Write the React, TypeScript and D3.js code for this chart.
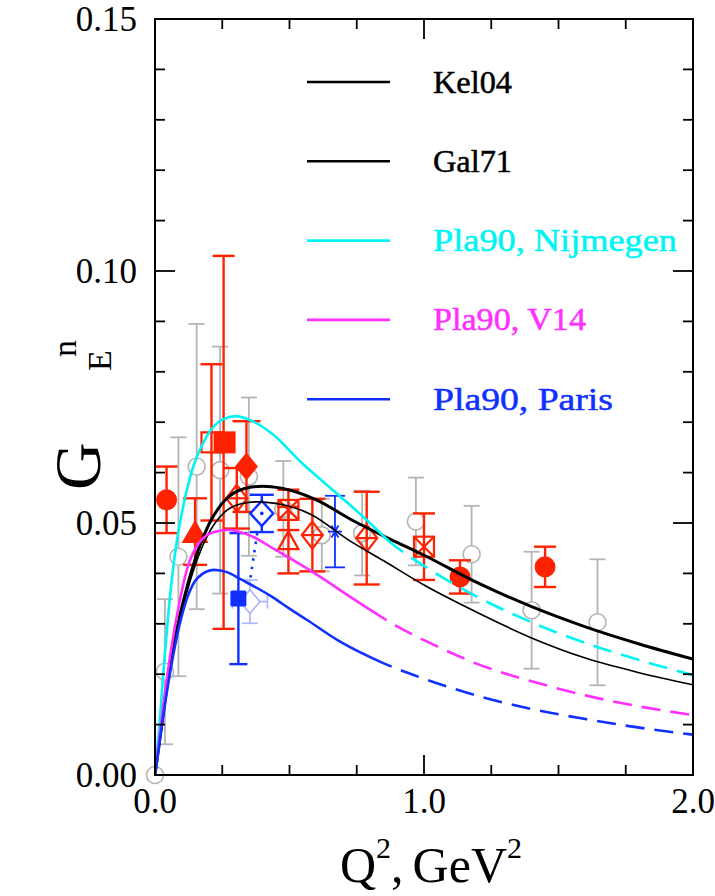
import React from "react";
import * as d3 from "d3";

type P = [number, number];

// ---- theory curves [Q2, GEn] ----
const KEL04: P[] = [[0,0],[0.03,0.012],[0.06,0.0235],[0.09,0.031],[0.12,0.0375],[0.16,0.0445],[0.2,0.0497],[0.26,0.0545],[0.33,0.0568],[0.4,0.0573],[0.47,0.0569],[0.6,0.0546],[0.725,0.0508],[0.874,0.0468],[1.0,0.0436],[1.2,0.0381],[1.4,0.0334],[1.6,0.0294],[1.8,0.026],[2.0,0.023]];
const GAL71: P[] = [[0,0],[0.03,0.0117],[0.06,0.0228],[0.09,0.0302],[0.12,0.0365],[0.16,0.0432],[0.2,0.048],[0.26,0.0522],[0.32,0.0538],[0.38,0.0542],[0.45,0.0539],[0.58,0.0517],[0.72,0.0466],[0.85,0.0425],[1.0,0.0377],[1.2,0.0322],[1.4,0.0272],[1.6,0.0232],[1.8,0.0203],[2.0,0.0179]];
const NIJMEGEN: P[] = [[0,0],[0.015,0.009],[0.03,0.0195],[0.055,0.035],[0.08,0.046],[0.1,0.052],[0.13,0.059],[0.19,0.067],[0.25,0.0705],[0.3,0.0712],[0.35,0.0705],[0.44,0.0675],[0.54,0.0622],[0.675,0.0559],[0.787,0.0506],[0.874,0.0462],[1.0,0.0415],[1.2,0.0353],[1.4,0.0303],[1.6,0.0262],[1.8,0.0228],[2.0,0.0198]];
const V14: P[] = [[0,0],[0.03,0.0135],[0.06,0.025],[0.09,0.034],[0.12,0.041],[0.17,0.0465],[0.22,0.0482],[0.27,0.0486],[0.35,0.0476],[0.45,0.0446],[0.6,0.0398],[0.75,0.0345],[0.9,0.0295],[1.05,0.0255],[1.2,0.022],[1.4,0.0186],[1.6,0.0158],[1.8,0.0136],[2.0,0.0119]];
const PARIS: P[] = [[0,0],[0.03,0.0115],[0.06,0.0215],[0.09,0.0295],[0.12,0.0352],[0.16,0.0392],[0.22,0.0407],[0.27,0.0402],[0.32,0.0388],[0.44,0.0352],[0.5,0.033],[0.564,0.0308],[0.69,0.0264],[0.84,0.0224],[1.0,0.0191],[1.2,0.0157],[1.4,0.0131],[1.6,0.0111],[1.8,0.0094],[2.0,0.008]];

const CURVE_NAMES = ["Kel04", "Gal71", "Pla90, Nijmegen", "Pla90, V14", "Pla90, Paris"];
const CURVE_DATA = [KEL04, GAL71, NIJMEGEN, V14, PARIS];
const CURVE_DASH_FROM = [null, null, 0.88, 0.84, 0.84];

// ---- data points [Q2, GEn, error] ----
const GRAY_CIRCLES: number[][] = [[0,0,0],[0.037,0.0205,0.0144],[0.087,0.0433,0.0237],[0.155,0.0612,0.0283],[0.242,0.0605,0.0245],[0.349,0.0592,0.0157],[0.477,0.0528,0.0095],[0.62,0.0476,0.0072],[0.77,0.048,0.0084],[0.97,0.0503,0.0087],[1.177,0.0438,0.0096],[1.40,0.0327,0.0116],[1.645,0.0303,0.0125]];
const RED_FILLED_CIRCLES: number[][] = [[0.043,0.0546,0.0066],[1.134,0.0393,0.0033],[1.45,0.0413,0.004]];
const RED_FILLED_TRIANGLE: number[][] = [[0.149,0.0483,0.0066]];
const RED_OPEN_SQUARE: number[][] = [[0.21,0.066,0.0155]];
const RED_FILLED_SQUARE: number[][] = [[0.255,0.066,0.037]];
const RED_FILLED_DIAMOND: number[][] = [[0.34,0.0612,0.009]];
const RED_DIAMOND_PLUS: number[][] = [[0.304,0.0549,0.006],[0.585,0.0476,0.0072],[0.787,0.047,0.0092]];
const RED_SQUARE_X: number[][] = [[0.496,0.0526,0.004],[1.0,0.0453,0.0066]];
const RED_OPEN_TRIANGLE: number[][] = [[0.496,0.0466,0.0066]];
const BLUE_DIAMOND_DOT: number[][] = [[0.397,0.0519,0.0037]];
const BLUE_ASTERISK: number[][] = [[0.669,0.0483,0.0071]];
const BLUE_FILLED_SQUARE: number[][] = [[0.31,0.035,0.013]];
const LIGHTBLUE_DIAMOND: number[][] = [[0.353,0.0344,0.0043,0.065]];
const BLUE_DOTTED: P[] = [[0.38,0.048],[0.355,0.0392]];

const X_TICK_VALUES = [0, 1, 2];
const X_TICK_LABELS = ["0.0", "1.0", "2.0"];
const Y_TICK_VALUES = [0, 0.05, 0.1, 0.15];
const Y_TICK_LABELS = ["0.00", "0.05", "0.10", "0.15"];

const RED = "#ff2200";
const GRAY = "#b4b4b4";
const BLUE = "#1030ff";
const LIGHTBLUE = "#aab4ff";
const CURVE_COLORS = ["#000000", "#000000", "#00f4f4", "#ff30ff", "#1030ff"];
const CURVE_WIDTHS = [3, 1.6, 2.6, 2.6, 2.6];
const LEGEND_TEXT_LEN = [79, 79, 244, 153, 180];

const SERIF = "'Liberation Serif', 'DejaVu Serif', serif";

export default function App() {
  const W = 715, H = 896;
  const L = 155, R = 693, T = 19, B = 775;
  const x = d3.scaleLinear().domain([0, 2]).range([L, R]);
  const y = d3.scaleLinear().domain([0, 0.15]).range([B, T]);
  const line = d3.line<P>().x(d => x(d[0])).y(d => y(d[1])).curve(d3.curveMonotoneX);

  const xMinor = d3.range(0, 2.0001, 0.25);
  const yMinor = d3.range(0, 0.15001, 0.01);

  const errBar = (q: number, g: number, e: number, color: string, cap: number, sw: number, key: string) => (
    <g key={key} stroke={color} strokeWidth={sw}>
      <line x1={x(q)} x2={x(q)} y1={y(g - e)} y2={y(g + e)} />
      <line x1={x(q) - cap} x2={x(q) + cap} y1={y(g + e)} y2={y(g + e)} />
      <line x1={x(q) - cap} x2={x(q) + cap} y1={y(g - e)} y2={y(g - e)} />
    </g>
  );
  const diamondPath = (cx: number, cy: number, hw: number, hh: number) =>
    `M${cx},${cy - hh}L${cx + hw},${cy}L${cx},${cy + hh}L${cx - hw},${cy}Z`;
  const triPath = (cx: number, cy: number, hw: number, hh: number) =>
    `M${cx},${cy - hh}L${cx + hw},${cy + hh}L${cx - hw},${cy + hh}Z`;

  return (
    <svg width={W} height={H} style={{ position: "absolute", left: 0, top: 0, background: "#fff" }}>
      <defs>
        <clipPath id="plot"><rect x={L} y={T} width={R - L} height={B - T} /></clipPath>
        {CURVE_DASH_FROM.map((df, i) => df === null ? null : (
          <React.Fragment key={i}>
            <clipPath id={`solid${i}`}><rect x={L} y={T} width={x(df) - L} height={B - T} /></clipPath>
            <clipPath id={`dash${i}`}><rect x={x(df)} y={T} width={R - x(df)} height={B - T} /></clipPath>
          </React.Fragment>
        ))}
      </defs>

      {/* gray data */}
      {GRAY_CIRCLES.map((d, i) => d[2] > 0 ? errBar(d[0], d[1], d[2], GRAY, 8, 1.8, "ge" + i) : null)}
      {GRAY_CIRCLES.map((d, i) => (
        <circle key={"gc" + i} cx={x(d[0])} cy={y(d[1])} r={8.5} fill="#fff" stroke={GRAY} strokeWidth={1.6} />
      ))}

      {/* light blue */}
      {LIGHTBLUE_DIAMOND.map((d, i) => (
        <g key={"lb" + i} stroke={LIGHTBLUE} strokeWidth={1.6} fill="none">
          {errBar(d[0], d[1], d[2], LIGHTBLUE, 8, 1.6, "lbe" + i)}
          <line x1={x(d[0] - d[3])} x2={x(d[0] + d[3])} y1={y(d[1])} y2={y(d[1])} />
          <line x1={x(d[0] - d[3])} x2={x(d[0] - d[3])} y1={y(d[1]) - 7} y2={y(d[1]) + 7} />
          <line x1={x(d[0] + d[3])} x2={x(d[0] + d[3])} y1={y(d[1]) - 7} y2={y(d[1]) + 7} />
          <path d={diamondPath(x(d[0]), y(d[1]), 10, 12)} fill="#fff" />
        </g>
      ))}

      {/* red error bars */}
      {RED_OPEN_SQUARE.map((d, i) => errBar(d[0], d[1], d[2], RED, 11, 2.4, "rose" + i))}
      {RED_FILLED_SQUARE.map((d, i) => errBar(d[0], d[1], d[2], RED, 11, 2.4, "rfse" + i))}
      {RED_FILLED_CIRCLES.map((d, i) => errBar(d[0], d[1], d[2], RED, 11, 2.4, "rfce" + i))}
      {RED_FILLED_TRIANGLE.map((d, i) => errBar(d[0], d[1], d[2], RED, 12, 2.4, "rfte" + i))}
      {RED_FILLED_DIAMOND.map((d, i) => errBar(d[0], d[1], d[2], RED, 14, 2.4, "rfde" + i))}
      {RED_DIAMOND_PLUS.map((d, i) => errBar(d[0], d[1], d[2], RED, 13, 2.4, "rdpe" + i))}
      {RED_SQUARE_X.map((d, i) => errBar(d[0], d[1], d[2], RED, 11, 2.4, "rsxe" + i))}
      {RED_OPEN_TRIANGLE.map((d, i) => errBar(d[0], d[1], d[2], RED, 11, 2.4, "rote" + i))}

      {/* blue error bars */}
      {BLUE_FILLED_SQUARE.map((d, i) => errBar(d[0], d[1], d[2], BLUE, 9, 2.4, "bfse" + i))}
      {BLUE_DIAMOND_DOT.map((d, i) => errBar(d[0], d[1], d[2], BLUE, 12, 2.4, "bdde" + i))}
      {BLUE_ASTERISK.map((d, i) => errBar(d[0], d[1], d[2], BLUE, 10, 1.8, "bae" + i))}
      <path d={d3.line<P>().x(d => x(d[0])).y(d => y(d[1]))(BLUE_DOTTED) || ""} stroke={BLUE} strokeWidth={2.6} strokeDasharray="2.5,6" fill="none" />

      {/* red markers */}
      {RED_OPEN_SQUARE.map((d, i) => (
        <rect key={"ros" + i} x={x(d[0]) - 10} y={y(d[1]) - 10} width={20} height={20} fill="none" stroke={RED} strokeWidth={2.2} />
      ))}
      {RED_FILLED_SQUARE.map((d, i) => (
        <rect key={"rfs" + i} x={x(d[0]) - 10} y={y(d[1]) - 11} width={22} height={22} fill={RED} />
      ))}
      {RED_FILLED_CIRCLES.map((d, i) => (
        <circle key={"rfc" + i} cx={x(d[0])} cy={y(d[1])} r={10.5} fill={RED} />
      ))}
      {RED_FILLED_TRIANGLE.map((d, i) => (
        <path key={"rft" + i} d={triPath(x(d[0]), y(d[1]), 13.5, 11.5)} fill={RED} />
      ))}
      {RED_FILLED_DIAMOND.map((d, i) => (
        <path key={"rfd" + i} d={diamondPath(x(d[0]), y(d[1]), 11.5, 14)} fill={RED} />
      ))}
      {RED_DIAMOND_PLUS.map((d, i) => (
        <g key={"rdp" + i} stroke={RED} strokeWidth={2.2} fill="none">
          <path d={diamondPath(x(d[0]), y(d[1]), 10.5, 13.5)} />
          <line x1={x(d[0]) - 10.5} x2={x(d[0]) + 10.5} y1={y(d[1])} y2={y(d[1])} />
        </g>
      ))}
      {RED_SQUARE_X.map((d, i) => (
        <g key={"rsx" + i} stroke={RED} strokeWidth={2.2} fill="none">
          <rect x={x(d[0]) - 10} y={y(d[1]) - 10} width={20} height={20} />
          <line x1={x(d[0]) - 10} x2={x(d[0]) + 10} y1={y(d[1]) - 10} y2={y(d[1]) + 10} />
          <line x1={x(d[0]) - 10} x2={x(d[0]) + 10} y1={y(d[1]) + 10} y2={y(d[1]) - 10} />
        </g>
      ))}
      {RED_OPEN_TRIANGLE.map((d, i) => (
        <path key={"rot" + i} d={triPath(x(d[0]), y(d[1]), 10, 9)} fill="none" stroke={RED} strokeWidth={2.2} />
      ))}

      {/* blue markers */}
      {BLUE_FILLED_SQUARE.map((d, i) => (
        <rect key={"bfs" + i} x={x(d[0]) - 8} y={y(d[1]) - 8} width={16} height={16} fill={BLUE} rx={1.5} />
      ))}
      {BLUE_DIAMOND_DOT.map((d, i) => (
        <g key={"bdd" + i}>
          <path d={diamondPath(x(d[0]), y(d[1]), 11.5, 12.5)} fill="#fff" stroke={BLUE} strokeWidth={2.4} />
          <circle cx={x(d[0])} cy={y(d[1])} r={1.8} fill={BLUE} />
        </g>
      ))}
      {BLUE_ASTERISK.map((d, i) => (
        <g key={"ba" + i} stroke={BLUE} strokeWidth={1.8}>
          <line x1={x(d[0]) - 7} x2={x(d[0]) + 7} y1={y(d[1])} y2={y(d[1])} />
          <line x1={x(d[0]) - 3.5} x2={x(d[0]) + 3.5} y1={y(d[1]) - 6} y2={y(d[1]) + 6} />
          <line x1={x(d[0]) - 3.5} x2={x(d[0]) + 3.5} y1={y(d[1]) + 6} y2={y(d[1]) - 6} />
        </g>
      ))}

      {/* curves */}
      <g clipPath="url(#plot)" fill="none">
        {CURVE_DATA.map((c, i) => {
          const df = CURVE_DASH_FROM[i];
          const d = line(c) || "";
          if (df === null) return <path key={"c" + i} d={d} stroke={CURVE_COLORS[i]} strokeWidth={CURVE_WIDTHS[i]} />;
          return (
            <g key={"c" + i}>
              <path d={d} stroke={CURVE_COLORS[i]} strokeWidth={CURVE_WIDTHS[i]} clipPath={`url(#solid${i})`} />
              <path d={d} stroke={CURVE_COLORS[i]} strokeWidth={CURVE_WIDTHS[i]} strokeDasharray="19,10" clipPath={`url(#dash${i})`} />
            </g>
          );
        })}
      </g>

      {/* frame and ticks */}
      <rect x={L} y={T} width={R - L} height={B - T} fill="none" stroke="#000" strokeWidth={2} />
      <g stroke="#000" strokeWidth={1.8}>
        {xMinor.map((v, i) => {
          const major = Math.abs(v - Math.round(v)) < 1e-6;
          const len = major ? 20 : 10;
          return (
            <g key={"xt" + i}>
              <line x1={x(v)} x2={x(v)} y1={B} y2={B - len} />
              <line x1={x(v)} x2={x(v)} y1={T} y2={T + len} />
            </g>
          );
        })}
        {yMinor.map((v, i) => {
          const major = i % 5 === 0;
          const len = major ? 20 : 10;
          return (
            <g key={"yt" + i}>
              <line x1={L} x2={L + len} y1={y(v)} y2={y(v)} />
              <line x1={R} x2={R - len} y1={y(v)} y2={y(v)} />
            </g>
          );
        })}
      </g>

      {/* tick labels */}
      <g fontFamily={SERIF} fontSize={35} fill="#000">
        {X_TICK_VALUES.map((v, i) => (
          <text key={"xl" + i} x={x(v)} y={B + 38} textAnchor="middle">{X_TICK_LABELS[i]}</text>
        ))}
        {Y_TICK_VALUES.map((v, i) => (
          <text key={"yl" + i} x={L - 18} y={y(v) + 12} textAnchor="end">{Y_TICK_LABELS[i]}</text>
        ))}
      </g>

      {/* axis titles */}
      <g fontFamily={SERIF} fill="#000">
        <text x={340} y={882} fontSize={50}>
          Q<tspan fontSize={30} dy={-24}>2</tspan>
          <tspan dy={24}>,</tspan>
          <tspan dx={9}>GeV</tspan>
          <tspan fontSize={30} dy={-24}>2</tspan>
        </text>
        <text transform="translate(100,490) rotate(-90)" fontSize={66}>G</text>
        <text transform="translate(111,371) rotate(-90)" fontSize={34}>E</text>
        <text transform="translate(76,357) rotate(-90)" fontSize={34}>n</text>
      </g>

      {/* legend */}
      <g fontFamily={SERIF} fontSize={32}>
        {CURVE_NAMES.map((name, i) => {
          const ly = 82 + i * 79.3;
          return (
            <g key={"lg" + i}>
              <line x1={307} x2={390} y1={ly} y2={ly} stroke={CURVE_COLORS[i]} strokeWidth={2.6} />
              <text x={433} y={ly + 10.5} fill={CURVE_COLORS[i]} stroke={CURVE_COLORS[i]} strokeWidth={0.5} textLength={LEGEND_TEXT_LEN[i]} lengthAdjust="spacingAndGlyphs">{name}</text>
            </g>
          );
        })}
      </g>
    </svg>
  );
}
